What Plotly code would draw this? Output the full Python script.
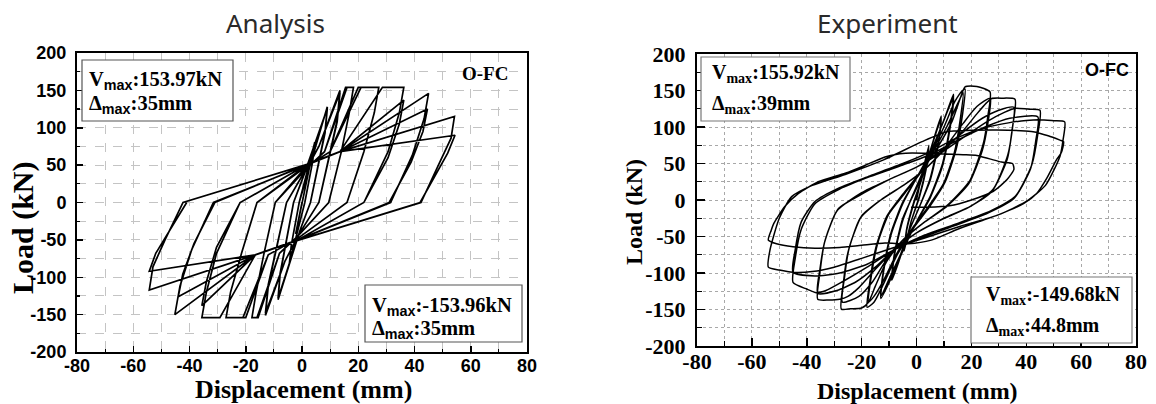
import plotly.graph_objects as go

W, H = 1156, 404

# ---------------- Analysis (left) : displacement / load path, cycle by cycle ----------------
ana_d_small = [0, 2.25, -2.25, 2.25, -2.25, 0, 4.5, 3.8, 1, -4.5, -3.8, -1, 4.5, 3.8, 1, -4.5, -3.8, -1]
ana_l_small = [0, 40, -42, 40, -42, 0, 80, 55, 0, -82, -57, 0, 80, 55, 0, -82, -57, 0]

ana_d_9 = [9, 8.2, 3, -0.5, -8.5, -7.8, -3, 0.5, 9, 8.2, 3, -0.5, -8.5, -7.8, -3]
ana_l_9 = [128, 95, 0, -35, -130, -97, 0, 35, 126, 93, 0, -35, -128, -95, 0]

ana_d_13 = [1, 6, 13.5, 12.5, 6, -1, -6, -13, -12, -5.5, 1, 6, 13.5, 12.5, 6, -1, -6, -13, -12, -5.5]
ana_l_13 = [40, 75, 150, 110, 0, -42, -78, -151, -112, 0, 42, 75, 147, 108, 0, -42, -78, -148, -110, 0]

ana_d_18 = [1.5, 8, 15.5, 18.3, 16.8, 14, 9.5, -1.5, -8, -15.6, -17.8, -16.3, -13.5, -9.5,
            1.5, 8, 16, 18.3, 16.8, 14, 9.5, -1.5, -8, -16, -17.8, -16.3, -13.5, -9.5]
ana_l_18 = [45, 68, 154, 154, 120, 68, 0, -45, -68, -154, -154, -120, -68, 0,
            45, 68, 154, 154, 120, 68, 0, -45, -68, -154, -154, -120, -68, 0]

ana_d_27 = [1.5, 10, 20, 27.3, 25.7, 22, 16, -1.5, -12, -20, -27, -25.4, -21.5, -16,
            1.5, 10, 21, 27.3, 25.7, 22, 16, -1.5, -12, -21, -27, -25.4, -21.5, -16]
ana_l_27 = [48, 68, 154, 154, 120, 68, 0, -48, -70, -154, -154, -120, -68, 0,
            48, 68, 154, 154, 120, 68, 0, -48, -70, -154, -154, -120, -68, 0]

ana_d_36 = [1.5, 13.5, 28.6, 36.2, 34.6, 30.6, 22, -1.5, -16.6, -29.2, -35.6, -34, -30.4, -22,
            1.5, 13.5, 36.2, 34.6, 30.6, 22, -1.5, -16.6, -35.6, -34, -30.4, -22]
ana_l_36 = [50, 68, 154, 154, 120, 68, 0, -50, -70, -154, -154, -120, -68, 0,
            50, 68, 137, 105, 60, 0, -50, -70, -138, -106, -60, 0]

ana_d_45 = [1.5, 13.5, 45, 43.4, 39.2, 31.5, -1.5, -16.6, -45.2, -43.4, -39.2, -31.5,
            1.5, 13.5, 44.6, 43, 38.8, 31, -1.5, -16.6, -44, -42.4, -38.4, -31]
ana_l_45 = [50, 68, 146, 112, 63, 0, -50, -70, -150, -112, -63, 0,
            50, 68, 125, 95, 54, 0, -50, -70, -126, -96, -55, 0]

ana_d_54 = [1.8, 13.5, 54.2, 53, 48.5, 42.3, -1.8, -16.6, -54.3, -53, -48.7, -42.3,
            1.8, 13.5, 54.4, 51.8, 42, -1.8, -16.6, -54.3, -52, -41]
ana_l_54 = [51, 68, 115, 86, 50, 0, -51, -70, -117, -86, -50, 0,
            51, 68, 90, 66, 0, -51, -70, -92, -68, 0]

# ---------------- Experiment (right) ----------------
exp_d_4 = [0, 2, 4.5, 3.5, 1, -2, -4.5, -3.5, -1, 2, 4.5, 3.5, 1, -2, -4.5, -3.5, -1]
exp_l_4 = [0, 35, 75, 45, 5, -30, -70, -40, -5, 30, 72, 42, 3, -30, -68, -38, -3]

exp_d_9 = [2, 6, 9, 8, 5, 1, -3, -6.5, -9, -8, -5, -1, 3, 6.5, 9, 8, 5, 1, -3, -6.5, -9, -8, -5, -1]
exp_l_9 = [30, 80, 115, 80, 30, -10, -45, -85, -110, -75, -28, 10, 45, 85, 112, 76, 27, -10, -45, -82, -106, -72, -25, 8]

exp_d_13 = [3, 7, 11, 13.5, 12.3, 9.5, 5, 0, -5, -9, -13, -12, -9.3, -5,
            0, 5, 9, 13.5, 12.3, 9.5, 5, 0, -5, -9, -13, -12, -9.3, -5]
exp_l_13 = [40, 80, 120, 145, 105, 50, 5, -30, -70, -105, -135, -98, -48, -5,
            30, 65, 100, 140, 100, 47, 3, -30, -68, -100, -132, -95, -45, -3]

exp_d_18 = [0, 5, 10, 14, 16.8, 17.7, 16.8, 14.5, 10.5, 5, -1, -7, -12, -15.5, -18, -17, -14.8, -10.8, -5,
            1, 6, 11, 15, 17, 16, 13.8, 9.8, 4.5, -1, -7, -12, -15.5, -17.5, -16.5, -14.2, -10.2, -4.5]
exp_l_18 = [30, 62, 100, 135, 150, 152, 118, 70, 25, -8, -38, -75, -115, -140, -147, -112, -65, -22, 8,
            36, 66, 100, 132, 147, 112, 65, 22, -8, -36, -72, -110, -132, -140, -105, -60, -20, 8]

exp_d_27 = [1, 7, 13, 16, 17.7, 22, 26.8, 26, 24.4, 19.5, 11, 3, -5, -11, -15, -17.5, -20, -24, -27.4,
            -26.6, -25, -20.5, -13, -4, 3, 10, 17, 22, 26.9, 26, 24, 19, 11, 3, -5, -11, -16, -21, -27,
            -26.2, -24.5, -20, -13]
exp_l_27 = [35, 68, 108, 140, 155, 155.5, 148, 115, 78, 27, -8, -30, -55, -85, -118, -140, -148, -149, -149.5,
            -112, -72, -25, 0, 22, 42, 70, 105, 128, 139.5, 105, 68, 22, -9, -30, -55, -82, -112, -132, -140,
            -105, -65, -22, 0]

exp_d_36 = [-4, 3, 10, 17, 22, 25.5, 27.4, 31, 35.9, 35.2, 33.3, 28, 20, 10, 0, -8, -15, -21, -25, -28, -32, -36,
            -35.2, -33.5, -29, -20, -10, 0, 8, 16, 24, 30, 35.5, 34.8, 33, 27.5, 19, 9, 0, -8, -15, -22, -29, -36,
            -35.2, -33.3, -28.5, -19]
exp_l_36 = [22, 42, 68, 95, 118, 133, 139, 139.5, 138, 105, 62, 15, -8, -25, -45, -68, -95, -120, -132, -136, -137, -136,
            -100, -58, -15, 10, 28, 45, 65, 90, 112, 123, 127, 95, 55, 12, -10, -27, -45, -67, -92, -112, -124, -128,
            -95, -55, -12, 10]

exp_d_45 = [-10, 0, 9, 18, 26, 32, 36, 40.5, 45, 44.2, 42, 36, 27, 15, 3, -8, -18, -27, -33, -36.5, -40, -45,
            -44.2, -42, -37, -28, -17, -5, 5, 15, 25, 34, 44.2, 43.5, 41.5, 35.5, 26, 14, 3, -8, -18, -28, -37, -45,
            -44.2, -42, -37, -28]
exp_l_45 = [28, 45, 65, 88, 108, 120, 125.6, 124.5, 123, 90, 48, 5, -15, -32, -48, -68, -92, -112, -124, -127, -122, -113,
            -80, -40, -5, 15, 32, 48, 62, 82, 100, 112, 114, 82, 42, 2, -18, -35, -50, -68, -88, -100, -104, -99,
            -68, -30, -2, 17]

exp_d_54 = [-17, -5, 5, 14, 24, 34, 40, 45, 50, 54, 53.4, 52.3, 47, 40, 30, 16, 3, -9, -20, -30, -38, -45, -50, -54,
            -53.4, -50, -45.5, -38, -26, -12, 2, 11, 20, 29.2, 38, 42.5, 48, 52.3, 53.6,
            52.8, 51, 47.5, 43.8, 39, 30, 24, 15, 5.4, -3, -11.5, -20, -28, -37, -45, -51, -54]
exp_l_54 = [33, 50, 66, 84, 98, 106, 109, 110, 108.5, 107, 82, 60, 20, -2, -20, -36, -52, -66, -80, -92, -98, -99, -96, -92,
            -68.5, -25, 4.6, 20, 35, 55, 80, 93.6, 95.5, 96, 95, 93.6, 88, 82, 80,
            65, 55, 30, 9, -5, -20, -28, -40, -55, -60, -59, -62, -65, -66, -64, -60, -55]

exp_d_end = [-53, -52, -48, -43, -35.8, -26, -19, -11.5, -4, 3, 10, 17, 22, 24, 27, 31, 35, 35.5, 33, 28, 20, 12, 4, -2]
exp_l_end = [-42, -32, -9, 9, 25, 36.6, 47, 59, 64, 64, 63, 62, 61, 59, 56, 52, 50, 42, 28, 12, 0, -8, -10, -10]

# ---------------- ticks / labels ----------------
x_tick_vals = [-80, -60, -40, -20, 0, 20, 40, 60, 80]
x_tick_text = ["-80", "-60", "-40", "-20", "0", "20", "40", "60", "80"]
x_minor_vals = [-70, -50, -30, -10, 10, 30, 50, 70]
y_tick_vals = [-200, -150, -100, -50, 0, 50, 100, 150, 200]
y_tick_text = ["-200", "-150", "-100", "-50", "0", "50", "100", "150", "200"]
y_minor_vals = [-175, -125, -75, -25, 25, 75, 125, 175]

ana_disp = (ana_d_small + ana_d_9 + ana_d_13 + ana_d_18 + ana_d_27 + ana_d_36 + ana_d_45 + ana_d_54)
ana_load = (ana_l_small + ana_l_9 + ana_l_13 + ana_l_18 + ana_l_27 + ana_l_36 + ana_l_45 + ana_l_54)
exp_disp = (exp_d_4 + exp_d_9 + exp_d_13 + exp_d_18 + exp_d_27 + exp_d_36 + exp_d_45 + exp_d_54 + exp_d_end)
exp_load = (exp_l_4 + exp_l_9 + exp_l_13 + exp_l_18 + exp_l_27 + exp_l_36 + exp_l_45 + exp_l_54 + exp_l_end)

SERIF = "Liberation Serif"
SANS = "Liberation Sans"


def px(x):
    return x / W


def py(y):
    return 1 - y / H


fig = go.Figure()
fig.add_trace(go.Scatter(x=ana_disp, y=ana_load, mode="lines", xaxis="x", yaxis="y",
                         line=dict(color="black", width=1.7), hoverinfo="skip"))
fig.add_trace(go.Scatter(x=exp_disp, y=exp_load, mode="lines", xaxis="x2", yaxis="y2",
                         line=dict(color="black", width=1.5, shape="spline", smoothing=0.6),
                         hoverinfo="skip"))


def axis(domain, anchor, vals, text, minor_vals, rng, font, gridcolor, griddash, ticklen, standoff):
    return dict(
        domain=domain, anchor=anchor, range=rng, tickmode="array", tickvals=vals,
        ticktext=["<b>%s</b>" % t for t in text], automargin=False,
        ticks="inside", ticklen=ticklen, tickwidth=1.5, tickcolor="black",
        showline=True, linecolor="black", linewidth=2, mirror=True,
        showgrid=True, gridcolor=gridcolor, gridwidth=1, griddash=griddash, zeroline=False,
        tickfont=font, ticklabelstandoff=standoff,
        minor=dict(tickmode="array", tickvals=minor_vals, ticks="inside", ticklen=max(3, ticklen - 3),
                   tickwidth=1.2, tickcolor="black", showgrid=True, gridcolor=gridcolor,
                   gridwidth=1, griddash=griddash),
    )


left_font = dict(family=SANS, size=18, color="black")
right_font = dict(family=SERIF, size=22, color="black")

fig.update_layout(
    width=W, height=H, margin=dict(l=0, r=0, t=0, b=0, pad=0, autoexpand=False),
    paper_bgcolor="white", plot_bgcolor="white", showlegend=False, hovermode=False,
    xaxis=axis([px(77), px(527)], "y", x_tick_vals, x_tick_text, x_minor_vals, [-80, 80],
               left_font, "#c4c4c4", "dash", 6, -4),
    yaxis=axis([py(352), py(53)], "x", y_tick_vals, y_tick_text, y_minor_vals, [-200, 200],
               left_font, "#c4c4c4", "dash", 6, 5),
    xaxis2=axis([px(697), px(1136)], "y2", x_tick_vals, x_tick_text, x_minor_vals, [-80, 80],
                right_font, "#a8a8a8", "dot", 8, -5),
    yaxis2=axis([py(346), py(54)], "x2", y_tick_vals, y_tick_text, y_minor_vals, [-200, 200],
                right_font, "#a8a8a8", "dot", 8, 5),
)

# white boxes for the Vmax / Delta-max notes
for (x0, y0, x1, y1, col) in [(82, 60, 233, 121, "#555555"), (365, 285, 522, 342, "#555555"),
                              (701, 57, 850, 121, "#777777"), (971, 277, 1132, 343, "#777777")]:
    fig.add_shape(type="rect", xref="paper", yref="paper", x0=px(x0), x1=px(x1), y0=py(y1), y1=py(y0),
                  line=dict(color=col, width=1.2), fillcolor="white", layer="above")


def note(text, x, y, size, family=SERIF, bold=True, xanchor="left", angle=0, color="black"):
    fig.add_annotation(text=("<b>%s</b>" % text) if bold else text, x=px(x), y=py(y),
                       xref="paper", yref="paper", showarrow=False,
                       xanchor=xanchor, yanchor="middle", textangle=angle,
                       font=dict(family=family, size=size, color=color))


SUB_L = '<sub><span style="font-family:Liberation Sans">max</span></sub>'
# titles
note("Analysis", 275, 23, 26, family="Noto Sans", bold=False, xanchor="center", color="#2a2a2a")
note("Experiment", 887, 23, 26, family="Noto Sans", bold=False, xanchor="center", color="#2a2a2a")
# axis titles
note("Load (kN)", 23, 228, 30, xanchor="center", angle=-90)
note("Displacement (mm)", 303, 389, 26, xanchor="center")
note("Load (kN)", 634, 212, 24, xanchor="center", angle=-90)
note("Displacement (mm)", 917, 391, 24, xanchor="center")
# specimen label
note("O-FC", 485, 74, 19, xanchor="center")
note("O-FC", 1107, 70, 18, family=SANS, xanchor="center")
# boxes text
note("V" + SUB_L + ":153.97kN", 87, 81, 20.5)
note("Δ" + SUB_L + ":35mm", 87, 104, 20.5)
note("V" + SUB_L + ":-153.96kN", 370, 306, 20.5)
note("Δ" + SUB_L + ":35mm", 370, 329, 20.5)
note("V<sub>max</sub>:155.92kN", 710, 74, 20)
note("Δ<sub>max</sub>:39mm", 710, 104, 20)
note("V<sub>max</sub>:-149.68kN", 984, 295, 20)
note("Δ<sub>max</sub>:44.8mm", 984, 326, 20)

fig.write_html(
    "out.html",
    config={"displayModeBar": False, "staticPlot": True},
    post_script="document.body.style.margin='0';document.body.style.overflow='hidden';",
)
